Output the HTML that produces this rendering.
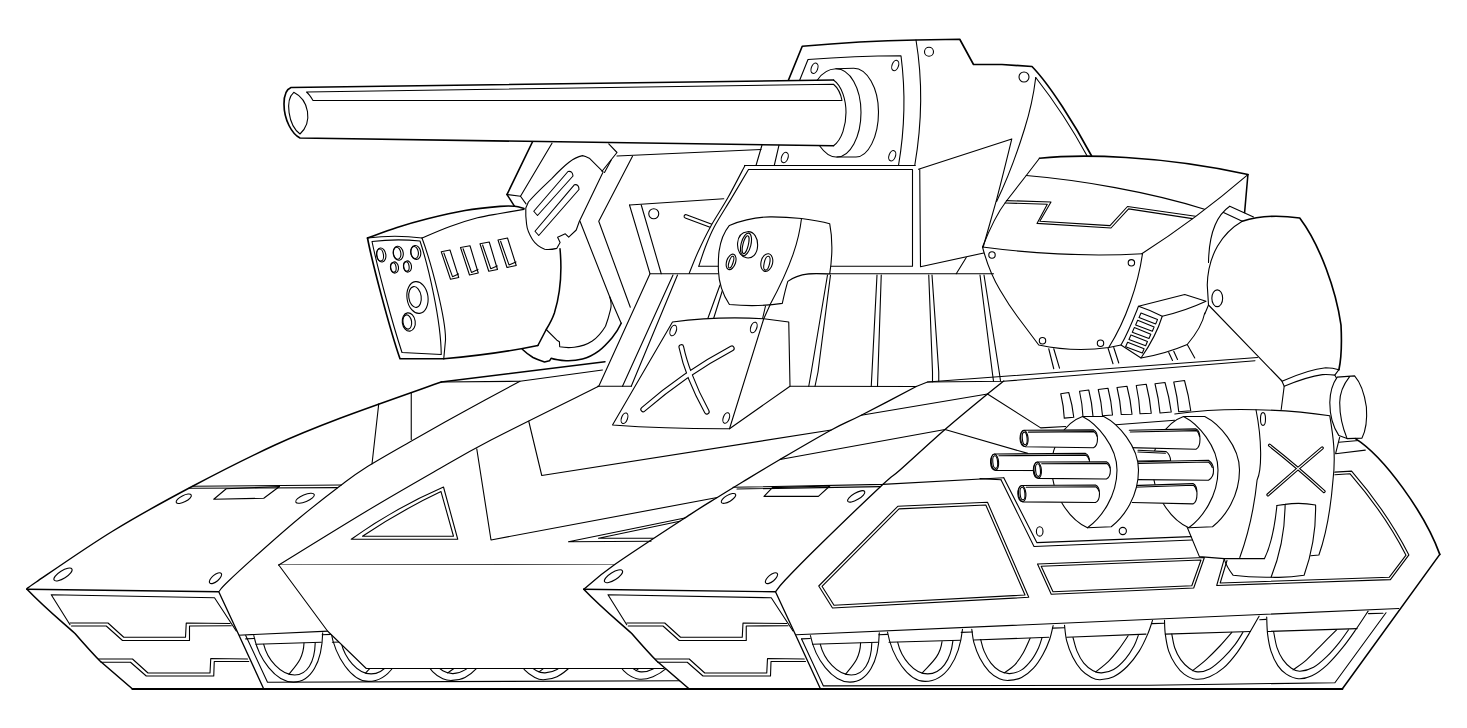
<!DOCTYPE html>
<html><head><meta charset="utf-8"><title>Tank line art</title>
<style>
html,body{margin:0;padding:0;background:#fff;font-family:"Liberation Sans",sans-serif;}
svg{display:block;}
</style></head><body>
<svg width="1467" height="728" viewBox="0 0 1467 728" stroke-linecap="round" stroke-linejoin="round">
<rect x="0" y="0" width="1467" height="728" fill="#fff"/>
<path d="M833.5,80 C842,86 846,100 846,112.5 C846,125 842,140 833.5,145.75" fill="none" stroke="#000" stroke-width="1.10" />
<path d="M833.5,80 L291,87.5 C287,89 284,95 284,104 C284,120 292,134 300,138 L833.5,145.75" fill="none" stroke="#000" stroke-width="1.65" />
<path d="M293.75,92.3 C285,100 288,125 300,134 C313,122 309,100 293.75,92.3Z" fill="none" stroke="#000" stroke-width="1.10" />
<path d="M306.5,92 L833.5,84.25 C838,88 841,95 842,100.5 L313,100.5 C311,97 309,94 306.5,92Z" fill="none" stroke="#000" stroke-width="1.10" />
<path d="M817.25,80.2 C822,73 829,69 836,68.75 L853.5,68.25 C867,68 878.5,88 878.5,112 C878.5,137 868,157 856,157 L836,157 C830,157 824,152 819.75,146" fill="none" stroke="#000" stroke-width="1.10" />
<path d="M836,68.75 C850,68.75 861,88 861,112.5 C861,137 850,157 837,157" fill="none" stroke="#000" stroke-width="1.10" />
<path d="M788.5,80 L802.25,46.25 Q860,41 916,40 L959.75,39.25 L973.5,64.5 L1002,64.5 L1032,66.5 C1050,85 1075,125 1091.5,155.75" fill="none" stroke="#000" stroke-width="1.65" />
<path d="M762,145 L756,165.5" fill="none" stroke="#000" stroke-width="1.10" />
<path d="M799.75,80 L808,59.5 Q855,56 901,55.75 Q908,110 898.5,165.5" fill="none" stroke="#000" stroke-width="1.10" />
<path d="M779,145.2 L774.25,165.5" fill="none" stroke="#000" stroke-width="1.10" />
<path d="M916,40 Q926,100 914.75,165.5" fill="none" stroke="#000" stroke-width="1.10" />
<path d="M744.75,165.5 L915,165.5" fill="none" stroke="#000" stroke-width="1.10" />
<ellipse cx="814.5" cy="68.25" rx="3.2" ry="5.4" fill="none" stroke="#000" stroke-width="1.10" transform="rotate(20 814.5 68.25)"/>
<ellipse cx="895.25" cy="65.5" rx="3.2" ry="5.4" fill="none" stroke="#000" stroke-width="1.10" transform="rotate(20 895.25 65.5)"/>
<ellipse cx="784.75" cy="157.5" rx="3.2" ry="5.4" fill="none" stroke="#000" stroke-width="1.10" transform="rotate(20 784.75 157.5)"/>
<ellipse cx="892.25" cy="155.75" rx="3.2" ry="5.4" fill="none" stroke="#000" stroke-width="1.10" transform="rotate(20 892.25 155.75)"/>
<ellipse cx="929" cy="51.75" rx="4.5" ry="4.5" fill="none" stroke="#000" stroke-width="1.10"/>
<path d="M1035.75,77.5 Q1065,115 1087,155.75" fill="none" stroke="#000" stroke-width="1.10" />
<ellipse cx="1024" cy="77" rx="5" ry="5" fill="none" stroke="#000" stroke-width="1.10"/>
<path d="M1035.75,77.5 C1033,100 1028,118 1024.5,129 C1018,150 1008,178 996.6,201.4" fill="none" stroke="#000" stroke-width="1.10" />
<path d="M918.5,169.25 L1011.8,138.9 Q1003,175 996.6,199.6 L983.2,247" fill="none" stroke="#000" stroke-width="1.10" />
<path d="M685.8,216.4 L716,227.6" fill="none" stroke="#000" stroke-width="4.50"/>
<path d="M685.8,216.4 L716,227.6" fill="none" stroke="#fff" stroke-width="2.30"/>
<path d="M745,165.4 L915,165.5 L915,273.75 L689.2,273.4 L698,252 L710.4,226.9 L727.7,198.1Z" fill="#fff" stroke="none" stroke-width="1.10" />
<path d="M744.75,165.5 L915,165.5" fill="none" stroke="#000" stroke-width="1.10" />
<path d="M745.00,165.40 C742.12,170.85 733.47,187.85 727.70,198.10 C721.93,208.35 715.35,217.92 710.40,226.90 C705.45,235.88 701.53,244.25 698.00,252.00 C694.47,259.75 690.67,269.83 689.20,273.40" fill="none" stroke="#000" stroke-width="1.10" />
<path d="M748.5,169.5 L912.5,169.5 L912.5,266.25 L698.8,266.25" fill="none" stroke="#000" stroke-width="1.10" />
<path d="M748.50,169.50 C745.67,174.27 737.22,188.53 731.50,198.10 C725.78,207.67 718.62,218.58 714.20,226.90 C709.78,235.22 707.57,241.44 705.00,248.00 C702.43,254.56 699.83,263.21 698.80,266.25" fill="none" stroke="#000" stroke-width="1.10" />
<path d="M919.75,169.5 L920.5,266.75 L983.75,253" fill="none" stroke="#000" stroke-width="1.10" />
<path d="M966.25,257.5 L956.25,273.75" fill="none" stroke="#000" stroke-width="1.10" />
<path d="M650,273.75 L993.5,273.75" fill="none" stroke="#000" stroke-width="1.10" />
<path d="M617,156 L761,149.5" fill="none" stroke="#000" stroke-width="1.10" />
<path d="M629.5,205 L723.75,198.75" fill="none" stroke="#000" stroke-width="1.10" />
<path d="M629.5,205 L650,273.75 L598.75,386.25" fill="none" stroke="#000" stroke-width="1.10" />
<path d="M641.25,205 L661.25,273.75" fill="none" stroke="#000" stroke-width="1.10" />
<ellipse cx="653.75" cy="213.75" rx="5" ry="5" fill="none" stroke="#000" stroke-width="1.10"/>
<path d="M632.5,156.25 L598.75,221.25 L630.3,307.2" fill="none" stroke="#000" stroke-width="1.10" />
<path d="M580,221.25 L609.6,296.5 L621.2,323.2" fill="none" stroke="#000" stroke-width="1.10" />
<path d="M673,275 L622.5,386.25" fill="none" stroke="#000" stroke-width="1.10" />
<path d="M677.5,275 L631.25,386.25" fill="none" stroke="#000" stroke-width="1.10" />
<path d="M597.5,386.25 L631.25,386.25" fill="none" stroke="#000" stroke-width="1.10" />
<path d="M532.4,142 L507,194.5" fill="none" stroke="#000" stroke-width="1.65" />
<path d="M507,194.5 L520.5,196.25 L552,143.2" fill="none" stroke="#000" stroke-width="1.10" />
<path d="M507,194.5 L514.6,206.3" fill="none" stroke="#000" stroke-width="1.54" />
<path d="M520.5,196.25 L526,203.9" fill="none" stroke="#000" stroke-width="1.10" />
<path d="M608.75,143.9 L617,152.5 L602,171.25" fill="none" stroke="#000" stroke-width="1.10" />
<path d="M611.25,160 L604.5,172.5" fill="none" stroke="#000" stroke-width="1.10" />
<path d="M525.8,208 L528.4,202 C536,193 545,185 551.5,178.8 C558,172 563,167 568.7,162.5 C573,159 578,156.5 582.5,155.6 C585,156 587,157 589.3,158.2 L603.1,171.9 L579.3,221.5 L576.25,230 L568.7,237.2 L565.3,233.8 L557.6,237.2 L560.1,242.4 L556.7,248.4 C552,249.6 548,249.8 544.7,249.3 C539,247 535,243.5 532.6,239.8 C529,234 527,229 526.6,224.3 C525.8,219 525.6,213 525.8,208Z" fill="none" stroke="#000" stroke-width="1.10" />
<path d="M533.75,211.25 L568,171.5 Q572.5,170.5 573,176 L537.5,215.5Z" fill="none" stroke="#000" stroke-width="1.10" />
<path d="M535,231.25 L574.5,184.7 Q579,184 579,189.5 L538.75,235.5Z" fill="none" stroke="#000" stroke-width="1.10" />
<path d="M367.50,238.00 C372.42,236.25 387.00,230.71 397.00,227.50 C407.00,224.29 416.17,221.58 427.50,218.75 C438.83,215.92 452.92,212.56 465.00,210.50 C477.08,208.44 491.73,207.10 500.00,206.40 C508.27,205.70 510.60,205.95 514.60,206.30 C518.60,206.65 522.43,208.13 524.00,208.50" fill="none" stroke="#000" stroke-width="1.65" />
<path d="M422.00,238.00 C426.67,236.08 440.75,229.87 450.00,226.50 C459.25,223.13 469.17,219.97 477.50,217.80 C485.83,215.63 492.25,214.90 500.00,213.50 C507.75,212.10 520.00,210.08 524.00,209.40" fill="none" stroke="#000" stroke-width="1.10" />
<path d="M367.5,238 Q395,234.5 422,238" fill="none" stroke="#000" stroke-width="1.10" />
<path d="M367.5,238 C372,262 390,330 400,358.75 L443.75,358.75" fill="none" stroke="#000" stroke-width="1.65" />
<path d="M422,238 C432,265 446,320 445.5,340 L443.75,358.75" fill="none" stroke="#000" stroke-width="1.10" />
<path d="M372,241.5 Q396,238.5 420,241 C428,265 441,320 441.25,354.5 L402,352.5 C392,322 378,270 372,241.5Z" fill="none" stroke="#000" stroke-width="1.10" />
<path d="M443.75,358.75 Q495,354.5 537.9,345.5" fill="none" stroke="#000" stroke-width="1.65" />
<path d="M560,248.75 C562.5,275 559,298 554.4,313 C552,320 549,325 546.2,329.5 L537.9,345.5" fill="none" stroke="#000" stroke-width="1.54" />
<ellipse cx="381.25" cy="255" rx="4.6" ry="7" fill="none" stroke="#000" stroke-width="1.10" transform="rotate(-8 381.25 255)"/>
<ellipse cx="380.15" cy="255" rx="3.3" ry="6.1" fill="none" stroke="#000" stroke-width="1.10" transform="rotate(-8 380.15 255)"/>
<ellipse cx="398.25" cy="253.25" rx="5" ry="7" fill="none" stroke="#000" stroke-width="1.10" transform="rotate(-8 398.25 253.25)"/>
<ellipse cx="397.15" cy="253.25" rx="3.7" ry="6.1" fill="none" stroke="#000" stroke-width="1.10" transform="rotate(-8 397.15 253.25)"/>
<ellipse cx="415.75" cy="252.5" rx="5" ry="7" fill="none" stroke="#000" stroke-width="1.10" transform="rotate(-8 415.75 252.5)"/>
<ellipse cx="414.65" cy="252.5" rx="3.7" ry="6.1" fill="none" stroke="#000" stroke-width="1.10" transform="rotate(-8 414.65 252.5)"/>
<ellipse cx="394.5" cy="267.5" rx="4" ry="5.6" fill="none" stroke="#000" stroke-width="1.10" transform="rotate(-8 394.5 267.5)"/>
<ellipse cx="393.4" cy="267.5" rx="2.7" ry="4.699999999999999" fill="none" stroke="#000" stroke-width="1.10" transform="rotate(-8 393.4 267.5)"/>
<ellipse cx="407.5" cy="266.5" rx="4" ry="5.6" fill="none" stroke="#000" stroke-width="1.10" transform="rotate(-8 407.5 266.5)"/>
<ellipse cx="406.4" cy="266.5" rx="2.7" ry="4.699999999999999" fill="none" stroke="#000" stroke-width="1.10" transform="rotate(-8 406.4 266.5)"/>
<ellipse cx="417.5" cy="297.5" rx="10.5" ry="16" fill="none" stroke="#000" stroke-width="1.10" transform="rotate(-8 417.5 297.5)"/>
<ellipse cx="415" cy="297" rx="6.2" ry="10.5" fill="none" stroke="#000" stroke-width="1.10" transform="rotate(-8 415 297)"/>
<ellipse cx="408.75" cy="322" rx="6.5" ry="9.2" fill="none" stroke="#000" stroke-width="1.10" transform="rotate(-8 408.75 322)"/>
<ellipse cx="407.3" cy="322" rx="4.3" ry="7.2" fill="none" stroke="#000" stroke-width="1.10" transform="rotate(-8 407.3 322)"/>
<path d="M441.25,251.75 L450.00,250.00 L458.75,277.50 L450.50,279.25Z" fill="none" stroke="#000" stroke-width="1.10" />
<path d="M443.85,252.95 L452.50,276.65 L458.45,273.90" fill="none" stroke="#000" stroke-width="1.10" />
<path d="M460.50,247.50 L470.00,245.75 L478.25,273.00 L469.50,275.00Z" fill="none" stroke="#000" stroke-width="1.10" />
<path d="M463.10,248.70 L471.50,272.40 L477.95,269.40" fill="none" stroke="#000" stroke-width="1.10" />
<path d="M480.00,243.75 L489.25,242.00 L497.50,269.50 L488.75,271.25Z" fill="none" stroke="#000" stroke-width="1.10" />
<path d="M482.60,244.95 L490.75,268.65 L497.20,265.90" fill="none" stroke="#000" stroke-width="1.10" />
<path d="M498.00,240.00 L507.50,238.00 L516.25,265.50 L507.00,267.50Z" fill="none" stroke="#000" stroke-width="1.10" />
<path d="M500.60,241.20 L509.00,264.90 L515.95,261.90" fill="none" stroke="#000" stroke-width="1.10" />
<path d="M609.6,296.5 C611.5,302 611.5,306 610.5,309.7 C609,316 607.5,321 605.5,326.2 C602,332 598,337 592.3,341 C587,344.5 581,346.5 574.2,347.3 C569,347.8 564,347.6 559.7,346.8 L559.4,341.8 L556.9,340.2 L546.2,329.5" fill="none" stroke="#000" stroke-width="1.10" />
<path d="M621.2,323.2 C619,328 616,333 612.1,337.7 C608,342.5 604,347 598.9,350.9 C594,354.5 588.5,357.5 582.4,359.1 C577,360.5 571.5,361 566,360.8 C560,360.4 555,359.6 551.1,358.3 L549.5,360.8 L544.5,361.9 C540,360.5 536,359 533,357.5 C529,355 525.5,352.3 522.3,349.2" fill="none" stroke="#000" stroke-width="1.54" />
<path d="M827.50,275.00 L811.25,372.00 L808.75,386.25" fill="none" stroke="#000" stroke-width="1.10" />
<path d="M830.50,275.00 L818.00,372.00 L815.00,386.25" fill="none" stroke="#000" stroke-width="1.10" />
<path d="M877.00,275.00 L872.00,372.00 L871.25,386.25" fill="none" stroke="#000" stroke-width="1.10" />
<path d="M881.25,275.00 L878.00,372.00 L877.50,386.25" fill="none" stroke="#000" stroke-width="1.10" />
<path d="M928.75,275.00 L932.50,372.00 L932.50,381.70" fill="none" stroke="#000" stroke-width="1.10" />
<path d="M932.00,275.00 L938.75,372.00 L938.75,381.20" fill="none" stroke="#000" stroke-width="1.10" />
<path d="M980.00,275.00 L992.50,373.75 L993.50,381.20" fill="none" stroke="#000" stroke-width="1.10" />
<path d="M984.00,275.00 L999.50,373.75 L1000.50,381.00" fill="none" stroke="#000" stroke-width="1.10" />
<path d="M720,285 L708,318" fill="none" stroke="#000" stroke-width="1.10" />
<path d="M723.75,286.25 L713.75,318" fill="none" stroke="#000" stroke-width="1.10" />
<path d="M770,305 L763.75,318.75" fill="none" stroke="#000" stroke-width="1.10" />
<path d="M765.5,306 L762.5,319" fill="none" stroke="#000" stroke-width="1.10" />
<path d="M729.4,225.4 C745,219 758,217 770,216.9 C782,216.8 792,217.5 801.5,218.5 C812,219.8 822,221.5 829.7,223.7 C832.5,238 832.5,256 829.7,273.9 C818,273.4 812,273.4 808.4,273.9 C800,275 793,277.5 787.8,281.4 C785.5,289 783.8,296.5 782.3,303.4 C765,306 745,306 729.4,304.5 C722.5,294 718.8,282 718.4,270.4 C718.2,262 718.4,256 719.1,251.2 C720.5,241 724,232 729.4,225.4Z" fill="#fff" stroke="#000" stroke-width="1.10" />
<path d="M801.5,218.5 C799,240 792,264 770,304.8" fill="none" stroke="#000" stroke-width="1.10" />
<path d="M747.5,231.7 C754,231.2 758,238 757.6,246 C757.2,254 752.5,258.8 746.5,257.8 C740.5,256.8 737,250 737.6,243 C738.2,236 742,232.2 747.5,231.7Z" fill="none" stroke="#000" stroke-width="1.10" />
<ellipse cx="746" cy="244.4" rx="4.9" ry="11.6" fill="none" stroke="#000" stroke-width="1.10" transform="rotate(14 746 244.4)"/>
<ellipse cx="745.6" cy="244.7" rx="2.7" ry="9.2" fill="none" stroke="#000" stroke-width="1.10" transform="rotate(14 745.6 244.7)"/>
<ellipse cx="731.1" cy="261.9" rx="4.5" ry="8" fill="none" stroke="#000" stroke-width="1.10" transform="rotate(18 731.1 261.9)"/>
<ellipse cx="731.1" cy="262.1" rx="2" ry="6.1" fill="none" stroke="#000" stroke-width="1.10" transform="rotate(18 731.1 262.1)"/>
<ellipse cx="766.8" cy="262.6" rx="5.8" ry="9" fill="none" stroke="#000" stroke-width="1.10" transform="rotate(13 766.8 262.6)"/>
<ellipse cx="766.9" cy="263.2" rx="2.7" ry="7.1" fill="none" stroke="#000" stroke-width="1.10" transform="rotate(13 766.9 263.2)"/>
<path d="M763.75,318.75 L788.75,322 L790,386.25 L729.5,428.75" fill="#fff" stroke="#000" stroke-width="1.10" />
<path d="M672.5,322 Q717.5,316 763.75,318.75 L729.5,428.75 Q667.5,429 612.5,425Z" fill="#fff" stroke="#000" stroke-width="1.10" />
<ellipse cx="673.25" cy="330.5" rx="3" ry="5.5" fill="none" stroke="#000" stroke-width="1.10" transform="rotate(20 673.25 330.5)"/>
<ellipse cx="753.75" cy="327.5" rx="3" ry="5.5" fill="none" stroke="#000" stroke-width="1.10" transform="rotate(20 753.75 327.5)"/>
<ellipse cx="624.5" cy="418.25" rx="3" ry="5.5" fill="none" stroke="#000" stroke-width="1.10" transform="rotate(20 624.5 418.25)"/>
<ellipse cx="726.25" cy="418" rx="3" ry="5.5" fill="none" stroke="#000" stroke-width="1.10" transform="rotate(20 726.25 418)"/>
<path d="M643.2,409.4 Q684.5,373.5 731.8,348.4" fill="none" stroke="#000" stroke-width="5.80"/>
<path d="M681.3,347 C684,360 692,385 706.8,411.6" fill="none" stroke="#000" stroke-width="5.80"/>
<path d="M643.2,409.4 Q684.5,373.5 731.8,348.4" fill="none" stroke="#fff" stroke-width="3.60"/>
<path d="M681.3,347 C684,360 692,385 706.8,411.6" fill="none" stroke="#fff" stroke-width="3.60"/>
<path d="M790,386.25 L916.25,386.5 L927.5,382 L1257.5,357.5" fill="none" stroke="#000" stroke-width="1.10" />
<path d="M927.5,382 L1003.75,381.25 L1255,360.75" fill="none" stroke="#000" stroke-width="1.10" />
<g transform="translate(-556.6 0)">
<path d="M810.4,635.5 C815.15,658.80 832.18,682.10 850.00,682.10 C867.58,682.10 878.71,662.34 879.30,632.70" fill="none" stroke="#000" stroke-width="1.10" />
<path d="M820.3,644.3 C824.02,659.65 837.35,675.00 851.30,675.00 C863.60,675.00 871.39,662.20 871.80,643.00" fill="none" stroke="#000" stroke-width="1.10" />
<path d="M845.50,674.14 C853.05,664.80 860.00,658.57 860.6,643" fill="none" stroke="#000" stroke-width="1.10" />
<path d="M812.5,644.3 L877.9,642.3" fill="none" stroke="#000" stroke-width="1.10" />
<path d="M887.5,632 C892.00,656.70 908.12,681.40 925.00,681.40 C945.25,681.40 959.27,659.73 962.50,629.30" fill="none" stroke="#000" stroke-width="1.10" />
<path d="M897.7,642.3 C901.30,658.10 914.20,673.90 927.70,673.90 C941.31,673.90 950.73,660.17 952.90,640.90" fill="none" stroke="#000" stroke-width="1.10" />
<path d="M922.09,673.01 C931.25,662.96 940.01,656.99 942,641.6" fill="none" stroke="#000" stroke-width="1.10" />
<path d="M889,642.3 L960.4,640.2" fill="none" stroke="#000" stroke-width="1.10" />
<path d="M971.80,629.30 C972.15,631.52 972.57,637.83 973.90,642.60 C975.23,647.37 977.25,653.07 979.80,657.90 C982.35,662.73 985.93,668.13 989.20,671.60 C992.47,675.07 996.13,677.23 999.40,678.70 C1002.67,680.17 1005.10,680.60 1008.80,680.40 C1012.50,680.20 1017.48,679.53 1021.60,677.50 C1025.72,675.47 1029.95,672.03 1033.50,668.20 C1037.05,664.37 1040.20,659.33 1042.90,654.50 C1045.60,649.67 1048.00,644.02 1049.70,639.20 C1051.40,634.38 1052.53,627.87 1053.10,625.60" fill="none" stroke="#000" stroke-width="1.10" />
<path d="M980.70,639.50 C981.27,641.43 982.40,647.17 984.10,651.10 C985.80,655.03 988.35,659.83 990.90,663.10 C993.45,666.37 996.28,668.95 999.40,670.70 C1002.52,672.45 1005.90,673.73 1009.60,673.60 C1013.30,673.47 1017.90,672.23 1021.60,669.90 C1025.30,667.57 1028.97,663.30 1031.80,659.60 C1034.63,655.90 1036.90,651.33 1038.60,647.70 C1040.30,644.07 1041.43,639.45 1042.00,637.80" fill="none" stroke="#000" stroke-width="1.10" />
<path d="M1004.20,672.90 C1005.97,671.55 1011.62,668.15 1014.80,664.80 C1017.98,661.45 1020.75,657.22 1023.30,652.80 C1025.85,648.38 1028.97,640.72 1030.10,638.30" fill="none" stroke="#000" stroke-width="1.10" />
<path d="M973.9,640 L1048.8,637.2" fill="none" stroke="#000" stroke-width="1.10" />
<path d="M1064.50,625.20 C1064.87,627.82 1065.33,635.58 1066.70,640.90 C1068.07,646.22 1070.28,652.27 1072.70,657.10 C1075.12,661.93 1078.08,666.50 1081.20,669.90 C1084.32,673.30 1088.27,675.85 1091.40,677.50 C1094.53,679.15 1096.30,679.93 1100.00,679.80 C1103.70,679.67 1109.07,678.92 1113.60,676.70 C1118.13,674.48 1122.93,670.77 1127.20,666.50 C1131.47,662.23 1135.78,656.50 1139.20,651.10 C1142.62,645.70 1145.48,639.22 1147.70,634.10 C1149.92,628.98 1151.70,622.68 1152.50,620.40" fill="none" stroke="#000" stroke-width="1.10" />
<path d="M1073.00,637.50 C1073.67,639.77 1075.20,646.83 1077.00,651.10 C1078.80,655.37 1081.12,659.83 1083.80,663.10 C1086.48,666.37 1090.12,669.07 1093.10,670.70 C1096.08,672.33 1098.28,673.10 1101.70,672.90 C1105.12,672.70 1109.63,671.85 1113.60,669.50 C1117.57,667.15 1122.10,662.72 1125.50,658.80 C1128.90,654.88 1131.87,649.90 1134.00,646.00 C1136.13,642.10 1137.58,637.17 1138.30,635.40" fill="none" stroke="#000" stroke-width="1.10" />
<path d="M1095.70,671.90 C1097.83,670.13 1104.67,665.05 1108.50,661.30 C1112.33,657.55 1115.43,653.65 1118.70,649.40 C1121.97,645.15 1126.53,638.07 1128.10,635.80" fill="none" stroke="#000" stroke-width="1.10" />
<path d="M1066.7,637.2 L1146,634.1" fill="none" stroke="#000" stroke-width="1.10" />
<path d="M1164.50,620.40 C1164.63,622.68 1164.60,628.98 1165.30,634.10 C1166.00,639.22 1166.98,645.98 1168.70,651.10 C1170.42,656.22 1173.03,660.97 1175.60,664.80 C1178.17,668.63 1180.70,671.70 1184.10,674.10 C1187.50,676.50 1191.75,678.77 1196.00,679.20 C1200.25,679.63 1205.05,678.53 1209.60,676.70 C1214.15,674.87 1218.75,672.18 1223.30,668.20 C1227.85,664.22 1232.65,658.48 1236.90,652.80 C1241.15,647.12 1245.10,640.20 1248.80,634.10 C1252.50,628.00 1257.38,619.18 1259.10,616.20" fill="none" stroke="#000" stroke-width="1.10" />
<path d="M1171.80,634.10 C1172.28,636.37 1173.22,643.45 1174.70,647.70 C1176.18,651.95 1178.28,656.18 1180.70,659.60 C1183.12,663.02 1186.37,666.15 1189.20,668.20 C1192.03,670.25 1194.30,671.77 1197.70,671.90 C1201.10,672.03 1205.33,671.33 1209.60,669.00 C1213.87,666.67 1219.03,662.02 1223.30,657.90 C1227.57,653.78 1231.93,648.55 1235.20,644.30 C1238.47,640.05 1241.62,634.38 1242.90,632.40" fill="none" stroke="#000" stroke-width="1.10" />
<path d="M1192.60,670.70 C1194.87,668.85 1201.65,663.72 1206.20,659.60 C1210.75,655.48 1215.63,650.53 1219.90,646.00 C1224.17,641.47 1229.82,634.67 1231.80,632.40" fill="none" stroke="#000" stroke-width="1.10" />
<path d="M1165.3,634.1 L1250.5,631.5" fill="none" stroke="#000" stroke-width="1.10" />
<path d="M878.75,634.8000000000001 L887.5,634.4000000000001" fill="none" stroke="#000" stroke-width="1.10" />
</g>
<path d="M238.2,635.2 L328.2,631.1" fill="none" stroke="#000" stroke-width="1.10" />
<path d="M245.7,635.5 L267.5,682.2 L682.5,680.8" fill="none" stroke="#000" stroke-width="1.10" />
<path d="M245.7,638.9 L253.9,638.5" fill="none" stroke="#000" stroke-width="1.10" />
<path d="M605,361.75 L441.25,382" fill="none" stroke="#000" stroke-width="1.43" />
<path d="M441.25,382.00 C424.38,388.04 367.71,407.75 340.00,418.25 C312.29,428.75 299.58,433.67 275.00,445.00 C250.42,456.33 219.58,471.88 192.50,486.25 C165.42,500.62 138.54,515.29 112.50,531.25 C86.46,547.21 50.50,572.33 36.25,582.00 C22.00,591.67 28.54,588.04 27.00,589.25" fill="none" stroke="#000" stroke-width="1.43" />
<path d="M441.25,382 L520,381.25 L602.5,370" fill="none" stroke="#000" stroke-width="1.10" />
<path d="M520.00,381.25 C510.83,386.21 483.38,400.88 465.00,411.00 C446.62,421.12 426.25,432.58 409.75,442.00 C393.25,451.42 377.42,460.33 366.00,467.50 C354.58,474.67 352.25,476.67 341.25,485.00 C330.25,493.33 313.12,506.67 300.00,517.50 C286.88,528.33 274.58,539.25 262.50,550.00 C250.42,560.75 234.79,575.04 227.50,582.00 C220.21,588.96 220.21,590.12 218.75,591.75" fill="none" stroke="#000" stroke-width="1.10" />
<path d="M598.75,386.25 C580.79,395.21 518.50,425.71 491.00,440.00 C463.50,454.29 454.58,460.08 433.75,472.00 C412.92,483.92 391.83,496.00 366.00,511.50 C340.17,527.00 293.29,556.08 278.75,565.00" fill="none" stroke="#000" stroke-width="1.10" />
<path d="M378.75,403.75 L372,464" fill="none" stroke="#000" stroke-width="1.10" />
<path d="M411.25,392.5 L411.25,439.5" fill="none" stroke="#000" stroke-width="1.10" />
<path d="M476.75,448.75 L491,540 L717.25,497.5" fill="none" stroke="#000" stroke-width="1.10" />
<path d="M528.75,421.25 L541.75,475.5 L831.25,430" fill="none" stroke="#000" stroke-width="1.10" />
<path d="M192.5,486.25 L341.25,485" fill="none" stroke="#000" stroke-width="1.10" />
<path d="M188.75,488.2 L337.5,487.6" fill="none" stroke="#000" stroke-width="1.10" />
<path d="M226.25,488.75 L279.50,486.50 L263.75,498.25 L213.75,499.25Z" fill="none" stroke="#000" stroke-width="1.10" />
<ellipse cx="183.75" cy="498.75" rx="8.4" ry="3.2" fill="none" stroke="#000" stroke-width="1.10" transform="rotate(-27 183.75 498.75)"/>
<ellipse cx="305" cy="498.25" rx="10" ry="3.5" fill="none" stroke="#000" stroke-width="1.10" transform="rotate(-22 305 498.25)"/>
<ellipse cx="63" cy="574.5" rx="10.5" ry="3.8" fill="none" stroke="#000" stroke-width="1.10" transform="rotate(-32 63 574.5)"/>
<ellipse cx="215.5" cy="578.2" rx="7.5" ry="3.3" fill="none" stroke="#000" stroke-width="1.10" transform="rotate(-40 215.5 578.2)"/>
<path d="M278.75,565 L614.75,564.5" fill="none" stroke="#000" stroke-width="1.10" />
<path d="M614.75,564.5 L278.75,565 L327.5,631 L366.25,668.5 L663.75,668.5 L700,600 L650,560Z" fill="#fff" stroke="none" stroke-width="1.10" />
<path d="M278.75,565 L327.5,631 L366.25,668.5 L663.75,668.5" fill="none" stroke="#000" stroke-width="1.10" />
<path d="M351.25,539.25 Q395,508 443.5,487 L457.75,539.25Z" fill="none" stroke="#000" stroke-width="1.10" />
<path d="M362.5,536.25 Q400,511 441,491.6 L453.5,536.25Z" fill="none" stroke="#000" stroke-width="1.10" />
<path d="M568.5,541.75 L684.75,518 M568.5,541.75 L651,541.25" fill="none" stroke="#000" stroke-width="1.10" />
<path d="M598.5,538.25 L679.75,521.25 M598.5,538.25 L653.5,538.25" fill="none" stroke="#000" stroke-width="1.10" />
<g transform="translate(0 0)">
<path d="M27,589.25 L218.75,591.75 L238.75,634.75 L263.75,689 L132.5,689 L100,661 C92,653 85,645 75,633.5 C60,620 45,608 27,589.25Z" fill="#fff" stroke="none" stroke-width="1.10" />
<path d="M27,589.25 L218.75,591.75 L238.75,634.75 L263.75,689" fill="none" stroke="#000" stroke-width="1.32" />
<path d="M27,589.25 C45,608 60,620 75,633.5 C85,645 92,653 100,661 L132.5,689" fill="none" stroke="#000" stroke-width="1.54" />
<path d="M70,624.75 L51.25,594.75 L214.5,597.75 L236.25,631" fill="none" stroke="#000" stroke-width="1.10" />
<path d="M70.00,623.00 L108.00,623.00 L123.75,637.25 L185.50,637.25 L186.25,623.00 L230.00,623.50" fill="none" stroke="#000" stroke-width="1.10" />
<path d="M71.50,626.00 L106.25,626.00 L122.50,640.50 L189.50,640.50 L189.50,626.00 L231.25,625.70" fill="none" stroke="#000" stroke-width="1.10" />
<path d="M98.75,659.00 L132.50,659.00 L148.00,673.00 L210.00,673.00 L210.75,658.50 L247.50,659.00" fill="none" stroke="#000" stroke-width="1.10" />
<path d="M101.00,662.25 L130.50,662.25 L146.25,676.00 L213.75,676.00 L214.25,661.50 L248.75,661.50" fill="none" stroke="#000" stroke-width="1.10" />
</g>
<g transform="translate(556.75 0)">
<path d="M27,589.25 L218.75,591.75 L238.75,634.75 L263.75,689 L132.5,689 L100,661 C92,653 85,645 75,633.5 C60,620 45,608 27,589.25Z" fill="#fff" stroke="none" stroke-width="1.10" />
<path d="M27,589.25 L218.75,591.75 L238.75,634.75 L263.75,689" fill="none" stroke="#000" stroke-width="1.32" />
<path d="M27,589.25 C45,608 60,620 75,633.5 C85,645 92,653 100,661 L132.5,689" fill="none" stroke="#000" stroke-width="1.54" />
<path d="M70,624.75 L51.25,594.75 L214.5,597.75 L236.25,631" fill="none" stroke="#000" stroke-width="1.10" />
<path d="M70.00,623.00 L108.00,623.00 L123.75,637.25 L185.50,637.25 L186.25,623.00 L230.00,623.50" fill="none" stroke="#000" stroke-width="1.10" />
<path d="M71.50,626.00 L106.25,626.00 L122.50,640.50 L189.50,640.50 L189.50,626.00 L231.25,625.70" fill="none" stroke="#000" stroke-width="1.10" />
<path d="M98.75,659.00 L132.50,659.00 L148.00,673.00 L210.00,673.00 L210.75,658.50 L247.50,659.00" fill="none" stroke="#000" stroke-width="1.10" />
<path d="M101.00,662.25 L130.50,662.25 L146.25,676.00 L213.75,676.00 L214.25,661.50 L248.75,661.50" fill="none" stroke="#000" stroke-width="1.10" />
</g>
<ellipse cx="613.5" cy="576.25" rx="10.5" ry="3.8" fill="none" stroke="#000" stroke-width="1.10" transform="rotate(-32 613.5 576.25)"/>
<ellipse cx="771.5" cy="578.2" rx="7.5" ry="3.3" fill="none" stroke="#000" stroke-width="1.10" transform="rotate(-40 771.5 578.2)"/>
<path d="M132.5,689 L1342.25,689" fill="none" stroke="#000" stroke-width="2.20" />
<path d="M916.25,386.50 C907.08,391.29 875.42,408.00 861.25,415.25 C847.08,422.50 844.79,422.62 831.25,430.00 C817.71,437.38 794.79,450.83 780.00,459.50 C765.21,468.17 752.96,475.67 742.50,482.00 C732.04,488.33 726.00,492.07 717.25,497.50 C708.50,502.93 707.08,503.43 690.00,514.60 C672.92,525.77 632.46,552.06 614.75,564.50 C597.04,576.94 588.92,585.12 583.75,589.25" fill="none" stroke="#000" stroke-width="1.32" />
<path d="M1003.75,381.00 C1001.04,383.17 997.29,385.92 987.50,394.00 C977.71,402.08 959.58,416.83 945.00,429.50 C930.42,442.17 910.42,460.79 900.00,470.00 C889.58,479.21 896.04,472.08 882.50,484.75 C868.96,497.42 834.97,530.12 818.75,546.00 C802.53,561.88 792.41,572.38 785.20,580.00 C777.99,587.62 777.12,589.79 775.50,591.75" fill="none" stroke="#000" stroke-width="1.32" />
<path d="M861.25,415.25 L987.5,394" fill="none" stroke="#000" stroke-width="1.10" />
<path d="M780,459.5 L945,429.5" fill="none" stroke="#000" stroke-width="1.10" />
<path d="M987.5,394 L1040.7,427.9 L1065.6,426.5" fill="none" stroke="#000" stroke-width="1.10" />
<path d="M945,429.5 L1027.8,453.4" fill="none" stroke="#000" stroke-width="1.10" />
<path d="M733,487.3 L882.7,484.4 Q950,480.5 1003.75,477.75" fill="none" stroke="#000" stroke-width="1.10" />
<path d="M737,489 L880.5,486.6" fill="none" stroke="#000" stroke-width="1.10" />
<path d="M772.40,487.60 L829.80,486.00 L818.40,496.40 L764.00,496.40Z" fill="none" stroke="#000" stroke-width="1.10" />
<ellipse cx="728.5" cy="498.4" rx="8.2" ry="3.2" fill="none" stroke="#000" stroke-width="1.10" transform="rotate(-30 728.5 498.4)"/>
<ellipse cx="856.2" cy="496.4" rx="9.8" ry="3.4" fill="none" stroke="#000" stroke-width="1.10" transform="rotate(-30 856.2 496.4)"/>
<path d="M1003.75,477.75 L1036.8,542.6 L1191,536.6" fill="none" stroke="#000" stroke-width="1.10" />
<path d="M1001,479.8 L1034,546.5 L1192.3,540" fill="none" stroke="#000" stroke-width="1.10" />
<path d="M980,478.6 L1001,479.8" fill="none" stroke="#000" stroke-width="1.10" />
<path d="M818.75,586.00 L897.80,506.30 L987.50,502.25 L1028.75,597.25 L832.50,608.00Z" fill="none" stroke="#000" stroke-width="1.10" />
<path d="M822.00,586.30 L899.00,508.90 L985.80,505.00 L1025.00,595.00 L834.00,605.30Z" fill="none" stroke="#000" stroke-width="1.10" />
<path d="M1037.50,564.00 L1204.40,557.50 L1193.70,588.00 L1051.25,594.25Z" fill="none" stroke="#000" stroke-width="1.10" />
<path d="M1041.20,566.20 L1201.00,560.00 L1191.80,585.70 L1053.00,591.80Z" fill="none" stroke="#000" stroke-width="1.10" />
<path d="M1224.2,559.1 L1216.7,585.5 L1390.4,579.6 L1408.9,554.9 C1395,528 1375,498 1351.6,471.1 L1334.8,472.1" fill="none" stroke="#000" stroke-width="1.10" />
<path d="M1227,560.5 L1220.2,583 L1389.2,577.3 L1406,555.2 C1392,528 1372,499 1350.1,473.8 L1334.8,474.8" fill="none" stroke="#000" stroke-width="1.10" />
<path d="M796.25,634.75 L1398.8,608.5" fill="none" stroke="#000" stroke-width="1.10" />
<path d="M801.6,638.9 L823.4,685.9 L1150,685.2 L1334.9,682.7 L1386,612.8" fill="none" stroke="#000" stroke-width="1.10" />
<path d="M810.4,635.5 C815.15,658.80 832.18,682.10 850.00,682.10 C867.58,682.10 878.71,662.34 879.30,632.70" fill="none" stroke="#000" stroke-width="1.10" />
<path d="M820.3,644.3 C824.02,659.65 837.35,675.00 851.30,675.00 C863.60,675.00 871.39,662.20 871.80,643.00" fill="none" stroke="#000" stroke-width="1.10" />
<path d="M845.50,674.14 C853.05,664.80 860.00,658.57 860.6,643" fill="none" stroke="#000" stroke-width="1.10" />
<path d="M812.5,644.3 L877.9,642.3" fill="none" stroke="#000" stroke-width="1.10" />
<path d="M887.5,632 C892.00,656.70 908.12,681.40 925.00,681.40 C945.25,681.40 959.27,659.73 962.50,629.30" fill="none" stroke="#000" stroke-width="1.10" />
<path d="M897.7,642.3 C901.30,658.10 914.20,673.90 927.70,673.90 C941.31,673.90 950.73,660.17 952.90,640.90" fill="none" stroke="#000" stroke-width="1.10" />
<path d="M922.09,673.01 C931.25,662.96 940.01,656.99 942,641.6" fill="none" stroke="#000" stroke-width="1.10" />
<path d="M889,642.3 L960.4,640.2" fill="none" stroke="#000" stroke-width="1.10" />
<path d="M971.80,629.30 C972.15,631.52 972.57,637.83 973.90,642.60 C975.23,647.37 977.25,653.07 979.80,657.90 C982.35,662.73 985.93,668.13 989.20,671.60 C992.47,675.07 996.13,677.23 999.40,678.70 C1002.67,680.17 1005.10,680.60 1008.80,680.40 C1012.50,680.20 1017.48,679.53 1021.60,677.50 C1025.72,675.47 1029.95,672.03 1033.50,668.20 C1037.05,664.37 1040.20,659.33 1042.90,654.50 C1045.60,649.67 1048.00,644.02 1049.70,639.20 C1051.40,634.38 1052.53,627.87 1053.10,625.60" fill="none" stroke="#000" stroke-width="1.10" />
<path d="M980.70,639.50 C981.27,641.43 982.40,647.17 984.10,651.10 C985.80,655.03 988.35,659.83 990.90,663.10 C993.45,666.37 996.28,668.95 999.40,670.70 C1002.52,672.45 1005.90,673.73 1009.60,673.60 C1013.30,673.47 1017.90,672.23 1021.60,669.90 C1025.30,667.57 1028.97,663.30 1031.80,659.60 C1034.63,655.90 1036.90,651.33 1038.60,647.70 C1040.30,644.07 1041.43,639.45 1042.00,637.80" fill="none" stroke="#000" stroke-width="1.10" />
<path d="M1004.20,672.90 C1005.97,671.55 1011.62,668.15 1014.80,664.80 C1017.98,661.45 1020.75,657.22 1023.30,652.80 C1025.85,648.38 1028.97,640.72 1030.10,638.30" fill="none" stroke="#000" stroke-width="1.10" />
<path d="M973.9,640 L1048.8,637.2" fill="none" stroke="#000" stroke-width="1.10" />
<path d="M1064.50,625.20 C1064.87,627.82 1065.33,635.58 1066.70,640.90 C1068.07,646.22 1070.28,652.27 1072.70,657.10 C1075.12,661.93 1078.08,666.50 1081.20,669.90 C1084.32,673.30 1088.27,675.85 1091.40,677.50 C1094.53,679.15 1096.30,679.93 1100.00,679.80 C1103.70,679.67 1109.07,678.92 1113.60,676.70 C1118.13,674.48 1122.93,670.77 1127.20,666.50 C1131.47,662.23 1135.78,656.50 1139.20,651.10 C1142.62,645.70 1145.48,639.22 1147.70,634.10 C1149.92,628.98 1151.70,622.68 1152.50,620.40" fill="none" stroke="#000" stroke-width="1.10" />
<path d="M1073.00,637.50 C1073.67,639.77 1075.20,646.83 1077.00,651.10 C1078.80,655.37 1081.12,659.83 1083.80,663.10 C1086.48,666.37 1090.12,669.07 1093.10,670.70 C1096.08,672.33 1098.28,673.10 1101.70,672.90 C1105.12,672.70 1109.63,671.85 1113.60,669.50 C1117.57,667.15 1122.10,662.72 1125.50,658.80 C1128.90,654.88 1131.87,649.90 1134.00,646.00 C1136.13,642.10 1137.58,637.17 1138.30,635.40" fill="none" stroke="#000" stroke-width="1.10" />
<path d="M1095.70,671.90 C1097.83,670.13 1104.67,665.05 1108.50,661.30 C1112.33,657.55 1115.43,653.65 1118.70,649.40 C1121.97,645.15 1126.53,638.07 1128.10,635.80" fill="none" stroke="#000" stroke-width="1.10" />
<path d="M1066.7,637.2 L1146,634.1" fill="none" stroke="#000" stroke-width="1.10" />
<path d="M1164.50,620.40 C1164.63,622.68 1164.60,628.98 1165.30,634.10 C1166.00,639.22 1166.98,645.98 1168.70,651.10 C1170.42,656.22 1173.03,660.97 1175.60,664.80 C1178.17,668.63 1180.70,671.70 1184.10,674.10 C1187.50,676.50 1191.75,678.77 1196.00,679.20 C1200.25,679.63 1205.05,678.53 1209.60,676.70 C1214.15,674.87 1218.75,672.18 1223.30,668.20 C1227.85,664.22 1232.65,658.48 1236.90,652.80 C1241.15,647.12 1245.10,640.20 1248.80,634.10 C1252.50,628.00 1257.38,619.18 1259.10,616.20" fill="none" stroke="#000" stroke-width="1.10" />
<path d="M1171.80,634.10 C1172.28,636.37 1173.22,643.45 1174.70,647.70 C1176.18,651.95 1178.28,656.18 1180.70,659.60 C1183.12,663.02 1186.37,666.15 1189.20,668.20 C1192.03,670.25 1194.30,671.77 1197.70,671.90 C1201.10,672.03 1205.33,671.33 1209.60,669.00 C1213.87,666.67 1219.03,662.02 1223.30,657.90 C1227.57,653.78 1231.93,648.55 1235.20,644.30 C1238.47,640.05 1241.62,634.38 1242.90,632.40" fill="none" stroke="#000" stroke-width="1.10" />
<path d="M1192.60,670.70 C1194.87,668.85 1201.65,663.72 1206.20,659.60 C1210.75,655.48 1215.63,650.53 1219.90,646.00 C1224.17,641.47 1229.82,634.67 1231.80,632.40" fill="none" stroke="#000" stroke-width="1.10" />
<path d="M1165.3,634.1 L1250.5,631.5" fill="none" stroke="#000" stroke-width="1.10" />
<path d="M1266.70,617.00 C1266.85,619.85 1266.88,628.42 1267.60,634.10 C1268.32,639.78 1269.30,645.85 1271.00,651.10 C1272.70,656.35 1275.25,661.77 1277.80,665.60 C1280.35,669.43 1282.88,671.92 1286.30,674.10 C1289.72,676.28 1294.03,678.42 1298.30,678.70 C1302.57,678.98 1307.08,678.12 1311.90,675.80 C1316.72,673.48 1322.08,669.48 1327.20,664.80 C1332.32,660.12 1337.77,653.67 1342.60,647.70 C1347.43,641.73 1351.95,635.10 1356.20,629.00 C1360.45,622.90 1366.12,614.08 1368.10,611.10" fill="none" stroke="#000" stroke-width="1.10" />
<path d="M1273.60,631.50 C1274.17,634.20 1275.45,643.02 1277.00,647.70 C1278.55,652.38 1280.50,656.18 1282.90,659.60 C1285.30,663.02 1288.55,666.27 1291.40,668.20 C1294.25,670.13 1296.30,671.35 1300.00,671.20 C1303.70,671.05 1309.07,669.80 1313.60,667.30 C1318.13,664.80 1322.93,660.32 1327.20,656.20 C1331.47,652.08 1335.65,647.00 1339.20,642.60 C1342.75,638.20 1346.95,631.93 1348.50,629.80" fill="none" stroke="#000" stroke-width="1.10" />
<path d="M1293.10,669.90 C1295.38,668.18 1301.97,663.87 1306.80,659.60 C1311.63,655.33 1317.13,649.27 1322.10,644.30 C1327.07,639.33 1334.18,632.22 1336.60,629.80" fill="none" stroke="#000" stroke-width="1.10" />
<path d="M1267.6,631.5 L1357.1,628.6" fill="none" stroke="#000" stroke-width="1.10" />
<path d="M878.75,634.8000000000001 L887.5,634.4000000000001" fill="none" stroke="#000" stroke-width="1.10" />
<path d="M961.25,632.4 L972.5,632.0" fill="none" stroke="#000" stroke-width="1.10" />
<path d="M1052.5,628.1 L1064.5,627.7" fill="none" stroke="#000" stroke-width="1.10" />
<path d="M1152,623.6 L1164.5,623.2" fill="none" stroke="#000" stroke-width="1.10" />
<path d="M1259.75,619.8000000000001 L1266,619.4000000000001" fill="none" stroke="#000" stroke-width="1.10" />
<path d="M1368.5,613.6 L1383,613.2" fill="none" stroke="#000" stroke-width="1.10" />
<path d="M801.6,638.9 L810.2,638.5" fill="none" stroke="#000" stroke-width="1.10" />
<path d="M1439.8,554.4 L1342.25,689" fill="none" stroke="#000" stroke-width="1.54" />
<path d="M982.5,247 C990,228 998,212 1006.25,201.25 L1026.25,175.5 L1039.5,158.25" fill="none" stroke="#000" stroke-width="1.10" />
<path d="M1039.5,158.25 C1080,154 1160,155 1248,174.5" fill="none" stroke="#000" stroke-width="1.65" />
<path d="M1247.9,174.7 Q1195,220 1141.8,253.75" fill="none" stroke="#000" stroke-width="1.10" />
<path d="M1026.25,175.5 C1080,180 1150,192 1204.5,209.2" fill="none" stroke="#000" stroke-width="1.10" />
<path d="M1247.9,174.7 L1244.6,212.6" fill="none" stroke="#000" stroke-width="1.54" />
<path d="M1006.40,200.60 L1051.00,202.00 L1039.80,221.20 L1110.00,225.60 L1127.50,206.50 L1195.50,216.20" fill="none" stroke="#000" stroke-width="1.10" />
<path d="M1005.00,203.00 L1047.30,204.20 L1037.00,223.40 L1111.00,228.00 L1128.60,208.90 L1192.50,218.60" fill="none" stroke="#000" stroke-width="1.10" />
<path d="M982.5,247 Q1065,258 1142.5,253.75" fill="none" stroke="#000" stroke-width="1.10" />
<path d="M982.5,247 C988,268 994,280 1000,290 C1007,302 1013,311 1020,320 L1038.75,345 Q1074,352.5 1108.75,347.5 L1121,345" fill="none" stroke="#000" stroke-width="1.10" />
<path d="M1142.5,253.75 C1138,285 1126,320 1108.75,347.5" fill="none" stroke="#000" stroke-width="1.10" />
<ellipse cx="992" cy="255" rx="3.2" ry="3.2" fill="none" stroke="#000" stroke-width="1.10"/>
<ellipse cx="1131.4" cy="262.8" rx="3.2" ry="3.2" fill="none" stroke="#000" stroke-width="1.10"/>
<ellipse cx="1042.5" cy="340.75" rx="3.2" ry="3.2" fill="none" stroke="#000" stroke-width="1.10"/>
<ellipse cx="1100.5" cy="343.25" rx="3.2" ry="3.2" fill="none" stroke="#000" stroke-width="1.10"/>
<path d="M1048.75,348.75 L1053.75,368.75 M1053.75,348.75 L1059.5,368.2" fill="none" stroke="#000" stroke-width="1.10" />
<path d="M1108,348 L1113,363.75 M1113.75,347.5 L1118.75,363" fill="none" stroke="#000" stroke-width="1.10" />
<path d="M1168.75,352.5 L1172.5,360.5 M1173.75,351.3 L1177.5,359.5" fill="none" stroke="#000" stroke-width="1.10" />
<path d="M1138.5,306.25 L1184.75,294.5 L1206,301.25 Q1185,311 1162.25,316.25 Q1150,310 1138.5,306.25Z" fill="none" stroke="#000" stroke-width="1.10" />
<path d="M1138.5,306.25 C1133,320 1128,333 1121,345 L1141,358 C1150,345 1158,330 1162.25,316.25" fill="none" stroke="#000" stroke-width="1.10" />
<path d="M1141,358 Q1165,354 1187.25,344.5 C1197,333 1203,322 1204.75,313" fill="none" stroke="#000" stroke-width="1.10" />
<path d="M1141.00,313.00 L1157.50,319.60 L1155.70,323.90 L1139.00,317.60Z" fill="none" stroke="#000" stroke-width="1.10" />
<path d="M1137.65,320.30 L1154.15,326.90 L1152.35,331.20 L1135.65,324.90Z" fill="none" stroke="#000" stroke-width="1.10" />
<path d="M1134.30,327.60 L1150.80,334.20 L1149.00,338.50 L1132.30,332.20Z" fill="none" stroke="#000" stroke-width="1.10" />
<path d="M1130.95,334.90 L1147.45,341.50 L1145.65,345.80 L1128.95,339.50Z" fill="none" stroke="#000" stroke-width="1.10" />
<path d="M1127.60,342.20 L1144.10,348.80 L1142.30,353.10 L1125.60,346.80Z" fill="none" stroke="#000" stroke-width="1.10" />
<path d="M1187.25,344.5 L1194.75,358" fill="none" stroke="#000" stroke-width="1.10" />
<path d="M1229.75,206.25 C1217,215 1209,232 1208.5,262.5" fill="none" stroke="#000" stroke-width="1.10" />
<path d="M1229.75,206.25 L1253.5,217 M1223.5,212.5 L1242.25,221.25" fill="none" stroke="#000" stroke-width="1.10" />
<path d="M1242.25,221.25 C1255,217 1275,214.5 1299.75,218 C1320,245 1336,290 1341,325 C1342,345 1341.5,358 1338.9,369.7" fill="none" stroke="#000" stroke-width="1.65" />
<path d="M1242.25,221.25 C1222,233 1208,255 1207.25,285 L1208.5,305 L1281,380" fill="none" stroke="#000" stroke-width="1.10" />
<ellipse cx="1217.25" cy="298.25" rx="5.4" ry="8.4" fill="none" stroke="#000" stroke-width="1.10"/>
<path d="M1208.5,305 L1204.75,314" fill="none" stroke="#000" stroke-width="1.10" />
<path d="M1281,380 L1282,381.2 L1284.2,386.2 L1281.2,409.5" fill="none" stroke="#000" stroke-width="1.10" />
<path d="M1282,381.2 C1296,375 1312,369 1325.7,367.7 Q1333,367.8 1338.9,369.7" fill="none" stroke="#000" stroke-width="1.10" />
<path d="M1284.2,386.2 C1298,380.5 1312,376 1322.4,374.6 Q1329,374.3 1334.8,375.1" fill="none" stroke="#000" stroke-width="1.10" />
<path d="M1338.9,369.7 L1334.8,375.1 L1336.4,377.9" fill="none" stroke="#000" stroke-width="1.10" />
<path d="M1337.2,377.1 L1354.6,375.9 C1360,382 1364.5,394 1366.4,407 C1367.2,418 1366,430 1362,438.1 L1347.1,438.6 L1338.9,435.6 C1333,427 1329.8,414 1329.8,402.6 C1330,392 1333,383 1337.2,377.1Z" fill="none" stroke="#000" stroke-width="1.10" />
<path d="M1349.6,376.6 C1343,385 1339.7,394 1339.7,402.6 C1339.7,412 1341,424 1347.1,438.6" fill="none" stroke="#000" stroke-width="1.10" />
<path d="M1339.7,437.2 L1335.6,453.7 L1365.3,450.1" fill="none" stroke="#000" stroke-width="1.10" />
<path d="M1338.9,442.2 L1358.7,440.5" fill="none" stroke="#000" stroke-width="1.10" />
<path d="M1355.4,438.6 C1384,456.5 1425,513.5 1439.8,554.4" fill="none" stroke="#000" stroke-width="1.65" />
<path d="M1060.75,393.75 L1068.75,392.5 Q1072.45,404.9 1073.75,417.3 L1064.25,418.1 Q1063.7,405.925 1060.75,393.75Z" fill="none" stroke="#000" stroke-width="1.10" />
<path d="M1079.5,391.25 L1088.75,390 Q1092.075,403.1 1093,416.2 L1083,416.8 Q1082.45,404.025 1079.5,391.25Z" fill="none" stroke="#000" stroke-width="1.10" />
<path d="M1098.25,389.5 L1108,388.25 Q1111.45,401.625 1112.5,415 L1102.5,415.8 Q1101.575,402.65 1098.25,389.5Z" fill="none" stroke="#000" stroke-width="1.10" />
<path d="M1117,387.5 L1127,386.25 Q1130.7,400.225 1132,414.2 L1121.25,414.5 Q1120.325,401.0 1117,387.5Z" fill="none" stroke="#000" stroke-width="1.10" />
<path d="M1136.25,385.5 L1146.25,384.25 Q1149.95,398.75 1151.25,413.25 L1140,413.75 Q1139.325,399.625 1136.25,385.5Z" fill="none" stroke="#000" stroke-width="1.10" />
<path d="M1155,383.75 L1165,382.5 Q1169.325,397.25 1171.25,412 L1160,413 Q1158.7,398.375 1155,383.75Z" fill="none" stroke="#000" stroke-width="1.10" />
<path d="M1173.75,382 L1184.5,380.5 Q1188.825,395.625 1190.75,410.75 L1178.75,411.75 Q1177.45,396.875 1173.75,382Z" fill="none" stroke="#000" stroke-width="1.10" />
<path d="M1112.5,425 L1174.75,420.25" fill="none" stroke="#000" stroke-width="1.10" />
<path d="M1174.75,414 Q1215,408.5 1256,409.75 Q1295,410.5 1329.8,415.8 C1333,435 1336,455 1333,480 C1331,505 1326,535 1318.9,555 L1310.7,555.8" fill="none" stroke="#000" stroke-width="1.10" />
<path d="M1256,409.75 C1262,440 1262,470 1257.1,480 C1254,510 1248,535 1239.8,557.5" fill="none" stroke="#000" stroke-width="1.10" />
<ellipse cx="1263" cy="419" rx="2.5" ry="6.4" fill="none" stroke="#000" stroke-width="1.10"/>
<path d="M1269.6,445.3 Q1296,466 1324,491.5" fill="none" stroke="#000" stroke-width="3.30"/>
<path d="M1322.2,448 Q1296,470 1268,494.8" fill="none" stroke="#000" stroke-width="3.30"/>
<path d="M1269.6,445.3 Q1296,466 1324,491.5" fill="none" stroke="#fff" stroke-width="1.10"/>
<path d="M1322.2,448 Q1296,470 1268,494.8" fill="none" stroke="#fff" stroke-width="1.10"/>
<path d="M1276.9,505.5 L1285.1,504.4 Q1300,502 1315.6,505 C1316,525 1313,550 1304.1,575.3 Q1288,578 1271.1,577.2 Q1250,577.5 1233.2,575.3 C1229,570 1226,565 1224.2,559.1" fill="none" stroke="#000" stroke-width="1.10" />
<path d="M1276.9,505.5 C1275,525 1271,545 1264.5,558.6" fill="none" stroke="#000" stroke-width="1.10" />
<path d="M1285.1,504.4 C1285,530 1280,555 1271.1,577.2" fill="none" stroke="#000" stroke-width="1.10" />
<path d="M1187.1,527 L1199.4,556.6 L1224.2,558.6 L1264.5,558.6" fill="none" stroke="#000" stroke-width="1.10" />
<path d="M1183.50,416.5 L1204.75,416.5 C1218.75,423.5 1239.50,446 1239.50,470 C1239.50,496 1225.50,516.5 1212.55,526.75 L1188.80,527.75" fill="#fff" stroke="#000" stroke-width="1.10" />
<path d="M1183.50,416.5 C1165.00,423 1152.50,445 1152.50,467 C1152.50,492 1169.00,519 1188.80,527.75 C1202.50,517.75 1218.00,496 1218.00,470 C1218.00,446 1197.50,423.5 1183.50,416.5Z" fill="#fff" stroke="#000" stroke-width="1.10" />
<path d="M1129.3,430.3 L1196,428.9 C1199.6,430.4 1200.0,436.04999999999995 1200.0,439.04999999999995 C1200.0,442.04999999999995 1199.6,447.7 1196,449.2 L1129.3,447.6" fill="#fff" stroke="#000" stroke-width="1.10" />
<path d="M1130.3,432.0 L1196.6,430.59999999999997 Q1198.8,432.4 1199.6,436.54999999999995" fill="none" stroke="#000" stroke-width="1.10" />
<path d="M1138,450.3 L1166.2,451.6 Q1170.2,454.5 1170.6,460.5 L1138,461" fill="#fff" stroke="#000" stroke-width="1.10" />
<path d="M1138,452 L1165.4,453.3" fill="none" stroke="#000" stroke-width="1.10" />
<path d="M1138.3,461.7 L1208.5,460.3 Q1213.8,464 1213.5,470.25 Q1213.8,477 1208.5,480.25 L1138.3,479.6" fill="#fff" stroke="#000" stroke-width="1.10" />
<path d="M1138.3,463.4 L1208.5,462 Q1211.5,464.5 1212.3,467.5" fill="none" stroke="#000" stroke-width="1.10" />
<path d="M1132.3,485.6 L1193,483.6 C1196.6,485.1 1197.0,490.75 1197.0,493.75 C1197.0,496.75 1196.6,502.4 1193,503.9 L1132.3,502.5" fill="#fff" stroke="#000" stroke-width="1.10" />
<path d="M1133.3,487.3 L1193.6,485.3 Q1195.8,487.1 1196.6,491.25" fill="none" stroke="#000" stroke-width="1.10" />
<path d="M1082.50,416.5 L1103.75,416.5 C1117.75,423.5 1138.50,446 1138.50,470 C1138.50,496 1124.50,516.5 1111.25,526.75 L1087.50,527.75" fill="#fff" stroke="#000" stroke-width="1.10" />
<path d="M1082.50,416.5 C1064.00,423 1051.50,445 1051.50,467 C1051.50,492 1068.00,519 1087.50,527.75 C1101.50,517.75 1117.00,496 1117.00,470 C1117.00,446 1096.50,423.5 1082.50,416.5Z" fill="#fff" stroke="#000" stroke-width="1.10" />
<path d="M994.9,454.0 L1085.5,453.4 C1089.1,454.9 1089.5,459.0 1089.5,462.0 C1089.5,465.0 1089.1,469.1 1085.5,470.6 L995.9,470.40000000000003 C988.9,469.6 988.9,454.6 994.9,454.0Z" fill="#fff" stroke="#000" stroke-width="1.10" />
<ellipse cx="994.9" cy="462.1" rx="3.7" ry="8.1" fill="none" stroke="#000" stroke-width="1.10" transform="rotate(-5 994.9 462.1)"/>
<ellipse cx="995.1999999999999" cy="462.1" rx="2.4" ry="6.3" fill="none" stroke="#000" stroke-width="1.10" transform="rotate(-5 995.1999999999999 462.1)"/>
<path d="M998.9,455.8 L1086.0,455.09999999999997 Q1088.3,456.9 1089.1,459.5" fill="none" stroke="#000" stroke-width="1.10" />
<path d="M1024.4,430.29999999999995 L1093.5,429.9 C1097.1,431.4 1097.5,435.85 1097.5,438.85 C1097.5,441.85 1097.1,446.3 1093.5,447.8 L1025.4,446.7 C1018.4000000000001,445.9 1018.4000000000001,430.9 1024.4,430.29999999999995Z" fill="#fff" stroke="#000" stroke-width="1.10" />
<ellipse cx="1024.4" cy="438.4" rx="3.7" ry="8.1" fill="none" stroke="#000" stroke-width="1.10" transform="rotate(-5 1024.4 438.4)"/>
<ellipse cx="1024.7" cy="438.4" rx="2.4" ry="6.3" fill="none" stroke="#000" stroke-width="1.10" transform="rotate(-5 1024.7 438.4)"/>
<path d="M1028.4,432.09999999999997 L1094.0,431.59999999999997 Q1096.3,433.4 1097.1,436.35" fill="none" stroke="#000" stroke-width="1.10" />
<path d="M1022.2,485.5 L1095.5,485 C1099.1,486.5 1099.5,490.75 1099.5,493.75 C1099.5,496.75 1099.1,501.0 1095.5,502.5 L1023.2,501.90000000000003 C1016.2,501.1 1016.2,486.1 1022.2,485.5Z" fill="#fff" stroke="#000" stroke-width="1.10" />
<ellipse cx="1022.2" cy="493.6" rx="3.7" ry="8.1" fill="none" stroke="#000" stroke-width="1.10" transform="rotate(-5 1022.2 493.6)"/>
<ellipse cx="1022.5" cy="493.6" rx="2.4" ry="6.3" fill="none" stroke="#000" stroke-width="1.10" transform="rotate(-5 1022.5 493.6)"/>
<path d="M1026.2,487.3 L1096.0,486.7 Q1098.3,488.5 1099.1,491.25" fill="none" stroke="#000" stroke-width="1.10" />
<path d="M1037.7,462.0 L1106.4,461.7 C1110.0,463.2 1110.4,467.35 1110.4,470.35 C1110.4,473.35 1110.0,477.5 1106.4,479 L1038.7,478.40000000000003 C1031.7,477.6 1031.7,462.6 1037.7,462.0Z" fill="#fff" stroke="#000" stroke-width="1.10" />
<ellipse cx="1037.7" cy="470.1" rx="3.7" ry="8.1" fill="none" stroke="#000" stroke-width="1.10" transform="rotate(-5 1037.7 470.1)"/>
<ellipse cx="1038.0" cy="470.1" rx="2.4" ry="6.3" fill="none" stroke="#000" stroke-width="1.10" transform="rotate(-5 1038.0 470.1)"/>
<path d="M1041.7,463.8 L1106.9,463.4 Q1109.2,465.2 1110.0,467.85" fill="none" stroke="#000" stroke-width="1.10" />
<ellipse cx="1039.7" cy="531.4" rx="3.3" ry="4.7" fill="none" stroke="#000" stroke-width="1.10"/>
<ellipse cx="1122.8" cy="531" rx="3.6" ry="3.6" fill="none" stroke="#000" stroke-width="1.10"/>
</svg>
</body></html>
